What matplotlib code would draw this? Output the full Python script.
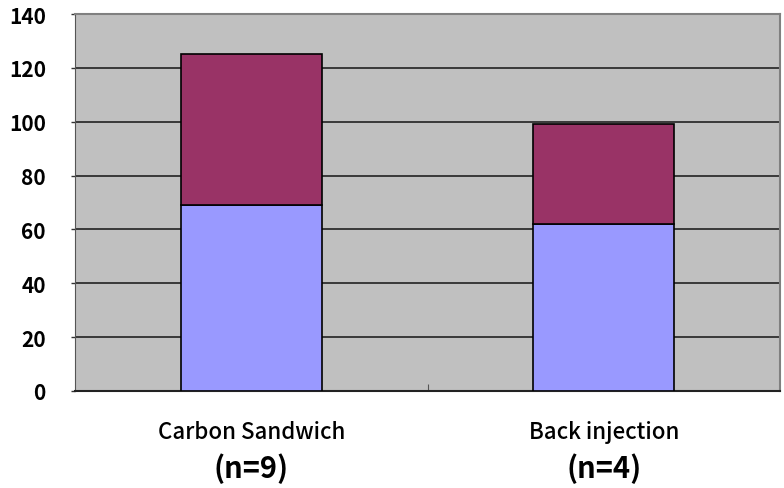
import matplotlib.pyplot as plt
import numpy as np

categories = ['Carbon Sandwich', 'Back injection']
counts = ['(n=9)', '(n=4)']
bottom_vals = [69, 62]
top_vals = [56, 37]
yticks = [0, 20, 40, 60, 80, 100, 120, 140]

plt.rcParams['font.family'] = ['Noto Sans CJK JP', 'DejaVu Sans']

fig = plt.figure(figsize=(7.84, 4.89), dpi=100)
ax = fig.add_axes([75 / 784, (489 - 392) / 489, 705 / 784, (392 - 15) / 489])

x = np.arange(len(categories))
ax.bar(x, bottom_vals, width=0.4, color='#9999FF', edgecolor='black', linewidth=1.2, zorder=3)
ax.bar(x, top_vals, width=0.4, bottom=bottom_vals, color='#993366', edgecolor='black',
       linewidth=1.2, zorder=3)

ax.set_facecolor('#C0C0C0')
ax.set_xlim(-0.5, 1.5)
ax.set_ylim(0, 140)
ax.set_yticks(yticks)
ax.set_yticklabels([str(v) for v in yticks], fontsize=15, fontweight='bold')
ax.yaxis.grid(True, color='#222222', linewidth=1.2, zorder=1)
ax.tick_params(axis='y', length=3, width=1, color='#333333', pad=18)

ax.set_xticks([0.5])
ax.set_xticklabels([''])
ax.tick_params(axis='x', direction='in', length=5, color='#555555')

for s in ['top', 'right']:
    ax.spines[s].set_color('#808080')
    ax.spines[s].set_linewidth(1.5)
ax.spines['left'].set_color('#555555')
ax.spines['bottom'].set_color('#222222')
ax.spines['bottom'].set_linewidth(1.5)

for i, (c, n) in enumerate(zip(categories, counts)):
    ax.text(i, -15, c, ha='center', va='center', fontsize=16, fontweight='medium',
            transform=ax.transData, clip_on=False)
    ax.text(i, -28.5, n, ha='center', va='center', fontsize=21, fontweight='bold',
            transform=ax.transData, clip_on=False)

fig.savefig('out.png', dpi=100)
